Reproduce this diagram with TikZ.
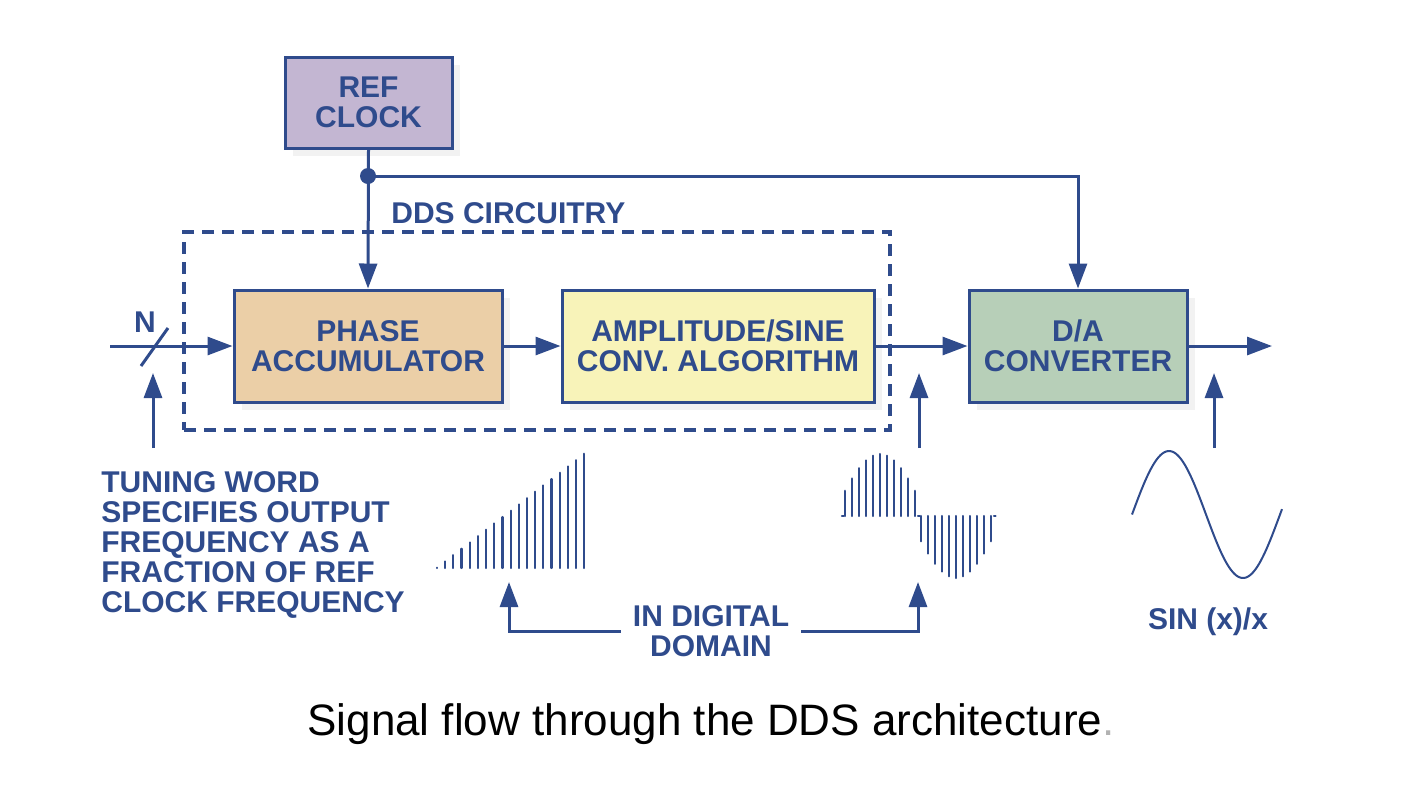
\documentclass[tikz,border=0pt]{standalone}
\usepackage{fontspec}
\setmainfont{Liberation Sans}
\usetikzlibrary{arrows.meta,positioning,shadows}
\definecolor{ddsblue}{HTML}{2F4B8C}
\definecolor{clockfill}{HTML}{C3B6D2}
\definecolor{phasefill}{HTML}{EBCFA7}
\definecolor{sinefill}{HTML}{F8F3B9}
\definecolor{dacfill}{HTML}{B7CFB8}
\tikzset{%
	block/.style   = {draw=ddsblue, line width=1.5pt, rectangle, minimum height=56pt, inner sep=0pt, align=center, text=ddsblue, font=\bfseries\fontsize{15pt}{15pt}\selectfont, drop shadow={shadow xshift=4pt, shadow yshift=-4pt, fill=black!10}},
	blurb/.style   = {inner sep=0pt, align=left, text=ddsblue, font=\bfseries\fontsize{15pt}{15pt}\selectfont},
	wire/.style    = {ddsblue, line width=1.5pt},
	arrow/.style   = {wire, -{Triangle[length=12.5pt,width=9pt]}},
	dashbox/.style = {draw=ddsblue, line width=2pt, dash pattern=on 6pt off 4pt, rectangle, inner sep=0pt},
	sample/.style  = {ddsblue, line width=1.1pt, line cap=round},
}
\begin{document}
\begin{tikzpicture}[x=0.5pt,y=-0.5pt]
	\useasboundingbox (0,0) rectangle (1422,800);
	
	% blocks
	\node[block, fill=clockfill, minimum width=83.5pt, minimum height=45.5pt] (ref) at (368.5,102.5) {REF\\CLOCK};
	\node[dashbox, minimum width=353pt, minimum height=99pt] (dds) at (537,331) {};
	\node[block, fill=phasefill, minimum width=134pt] (phase) at (368,346) {PHASE\\ACCUMULATOR};
	\node[block, fill=sinefill, minimum width=156pt] (amp) at (718,346) {AMPLITUDE/SINE\\CONV. ALGORITHM};
	\node[block, fill=dacfill, minimum width=109pt] (dac) at (1078,346) {D/A\\CONVERTER};
	\node[blurb, anchor=west] (ddslabel) at (391,213) {DDS CIRCUITRY};
	
	% clock distribution
	\coordinate (tap) at (368,176);
	\draw[arrow] (ref.south) -- (phase.north);
	\draw[arrow] (tap) -| (dac.north);
	\fill[ddsblue] (tap) circle (4pt);
	
	% signal path
	\coordinate (nin) at (110,346);
	\coordinate (out) at (1272,346);
	\draw[arrow] (nin) -- (phase.west);
	\draw[wire] (141,366) -- (168,328);  % bus slash
	\node[blurb] (nbits) at (145,322) {N};
	\draw[arrow] (phase) -- (amp);
	\draw[arrow] (amp) -- (dac);
	\draw[arrow] (dac) -- (out);
	
	% pointers to the waveforms
	\coordinate (twfoot) at (153,448);
	\coordinate (twtip) at (153,373);
	\coordinate (sfoot) at (919,448);
	\coordinate (stip) at (919,373);
	\coordinate (afoot) at (1214,448);
	\coordinate (atip) at (1214,373);
	\draw[arrow] (twfoot) -- (twtip);
	\draw[arrow] (sfoot) -- (stip);
	\draw[arrow] (afoot) -- (atip);
	
	\node[blurb, anchor=north west] (tuning) at (101,471) {TUNING WORD\\SPECIFIES OUTPUT\\FREQUENCY AS A\\FRACTION OF REF\\CLOCK FREQUENCY};
	
	% phase ramp
	\foreach \i in {0,...,18}
		\draw[sample] ({437+8.18*\i},568) -- ++(0,{-0.3-6.33*\i});
	
	% sampled sine
	\foreach \k in {0,...,10} {
		\draw[sample] ({845+7*\k},516) -- ++(0,{-62*sin(24+13.2*\k)});
		\draw[sample] ({921+7*\k},516) -- ++(0,{62*sin(24+13.2*\k)});
	}
	\foreach \z in {842,918,994}
		\draw[sample] (\z,516) -- ++(1.5,0);
	
	% analog output
	\draw[ddsblue, line width=1pt, domain=0:150, samples=80] plot ({1132+\x},{514.5-63.5*sin(2.4324*\x)});
	\node[blurb, align=center] (sinc) at (1208,622) {SIN (x)/x};
	
	% digital domain bracket
	\node[blurb, align=center, inner xsep=6pt] (digital) at (711,631) {IN DIGITAL\\DOMAIN};
	\coordinate (sawtip) at (509,582);
	\coordinate (sinetip) at (918,582);
	\draw[arrow] (digital.west) -| (sawtip);
	\draw[arrow] (digital.east) -| (sinetip);
	
	% caption
	\node[anchor=base, inner sep=0pt, font=\fontsize{22pt}{26pt}\selectfont] (caption) at (711,735) {Signal flow through the DDS architecture{\color{black!30}.}};
	
\end{tikzpicture}
\end{document}
